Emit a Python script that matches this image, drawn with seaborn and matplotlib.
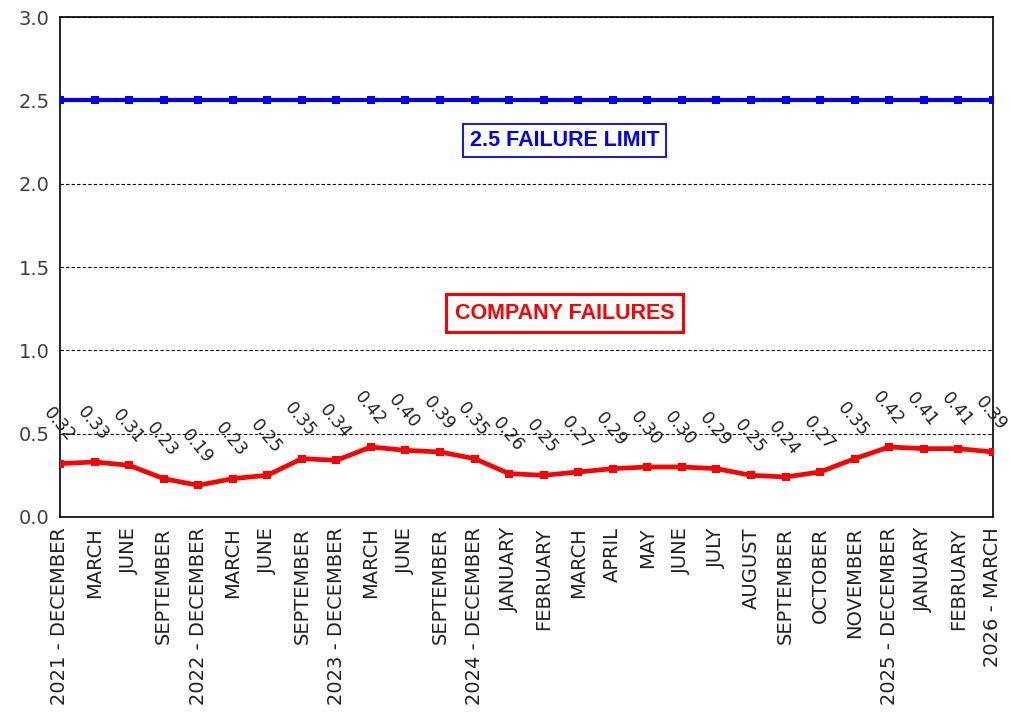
import pandas as pd
import seaborn as sns
import matplotlib.pyplot as plt

periods = ["2021 - DECEMBER", "MARCH", "JUNE", "SEPTEMBER",
           "2022 - DECEMBER", "MARCH", "JUNE", "SEPTEMBER",
           "2023 - DECEMBER", "MARCH", "JUNE", "SEPTEMBER",
           "2024 - DECEMBER", "JANUARY", "FEBRUARY", "MARCH", "APRIL", "MAY",
           "JUNE", "JULY", "AUGUST", "SEPTEMBER", "OCTOBER", "NOVEMBER",
           "2025 - DECEMBER", "JANUARY", "FEBRUARY", "2026 - MARCH"]
failures = [0.32, 0.33, 0.31, 0.23, 0.19, 0.23, 0.25, 0.35, 0.34, 0.42,
            0.40, 0.39, 0.35, 0.26, 0.25, 0.27, 0.29, 0.30, 0.30, 0.29,
            0.25, 0.24, 0.27, 0.35, 0.42, 0.41, 0.41, 0.39]
limit = [2.5] * len(periods)
yticks = [0, 0.5, 1.0, 1.5, 2.0, 2.5, 3.0]

sns.set_style("white")
plt.rcParams['font.family'] = ['DejaVu Sans']
box_font = ['Liberation Sans', 'DejaVu Sans']

df = pd.DataFrame({"pos": range(len(periods)), "failures": failures, "limit": limit})

fig, ax = plt.subplots(figsize=(10.1, 7.17), dpi=100)
fig.subplots_adjust(left=0.0594, right=0.983, top=0.976, bottom=0.279)

ax.grid(axis="y", color="black", linestyle=(0, (3, 2)), linewidth=0.8)
ax.set_axisbelow(True)

sns.lineplot(data=df, x="pos", y="limit", ax=ax, color="#0000FF", linewidth=3,
             marker="s", markersize=5.5, markeredgewidth=0, sort=False, zorder=3)
sns.lineplot(data=df, x="pos", y="failures", ax=ax, color="#FF0000", linewidth=3.4,
             marker="s", markersize=6, markeredgewidth=0, sort=False, zorder=4)

# value labels, tilted like the original
for i, v in enumerate(failures):
    ax.annotate(f"{v:.2f}", (i, v), xytext=(-1, 28), textcoords="offset points",
                ha="center", va="center", rotation=-50, fontsize=12.5,
                color="#222222", zorder=5, annotation_clip=False)

ax.text(14.6, 2.26, "2.5 FAILURE LIMIT", color="#0000FF", fontsize=15.5,
        fontweight="bold", family=box_font, ha="center", va="center", zorder=6,
        bbox=dict(boxstyle="square,pad=0.3", facecolor="white", edgecolor="#0000FF", linewidth=1.3))
ax.text(14.6, 1.224, "COMPANY FAILURES", color="#FF0000", fontsize=15.5,
        fontweight="bold", family=box_font, ha="center", va="center", zorder=6,
        bbox=dict(boxstyle="square,pad=0.4", facecolor="white", edgecolor="#FF0000", linewidth=2.2))

ax.set_xlim(0, len(periods) - 1)
ax.set_ylim(0, 3.0)
ax.set_yticks(yticks)
ax.set_yticklabels([f"{t:.1f}" for t in yticks], fontsize=14)
ax.set_xticks(range(len(periods)))
ax.set_xticklabels(periods, rotation=90, fontsize=14)
ax.tick_params(axis="x", direction="inout", length=8, width=1, colors="black", labelcolor="#222222")
ax.tick_params(axis="y", direction="out", length=4, width=1, colors="black", labelcolor="#404040")
ax.set_xlabel("")
ax.set_ylabel("")
for s in ax.spines.values():
    s.set_color("black")
    s.set_linewidth(1.2)

plt.savefig("out.png", dpi=100)
